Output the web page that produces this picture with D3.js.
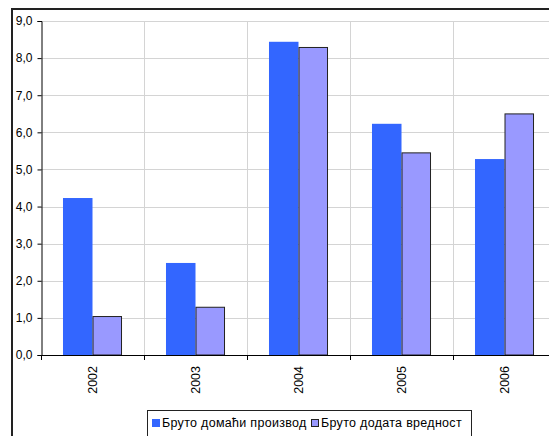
<!DOCTYPE html>
<html>
<head>
<meta charset="utf-8">
<script src="https://cdn.jsdelivr.net/npm/d3@7"></script>
<style>
  html, body { margin: 0; padding: 0; background: #fff; }
  svg { display: block; font-family: Arial, "Liberation Sans", sans-serif; }
</style>
</head>
<body>
<svg id="chart" width="549" height="436"></svg>
<script>
// Годишње стопе раста
const years = ["2002", "2003", "2004", "2005", "2006"];
const seriesNames = ["Бруто домаћи производ", "Бруто додата вредност"];
const gdp = [4.23, 2.48, 8.44, 6.23, 5.28];
const gva = [1.05, 1.30, 8.30, 5.46, 6.51];
const yTicks = [0, 1, 2, 3, 4, 5, 6, 7, 8, 9];
const colors = ["#3366FF", "#9999FF"];

const svg = d3.select("#chart");
const W = 549, H = 436;
const plot = { left: 41, top: 21, right: 556, bottom: 355 };

// outer frame
svg.append("rect")
  .attr("x", 12).attr("y", 9)
  .attr("width", W + 20).attr("height", H + 20)
  .attr("fill", "#fff").attr("stroke", "#222").attr("stroke-width", 2);

const y = d3.scaleLinear().domain([0, 9]).range([plot.bottom, plot.top]);
const x0 = d3.scaleBand().domain(years).range([plot.left, plot.right]).padding(0);
const x1 = d3.scaleBand().domain(seriesNames).range([0, x0.bandwidth()])
  .paddingInner(0).paddingOuter(0.745);

// horizontal gridlines
svg.append("g").selectAll("line").data(yTicks.filter(d => d > 0)).join("line")
  .attr("x1", plot.left).attr("x2", plot.right)
  .attr("y1", d => Math.round(y(d)) + 0.5).attr("y2", d => Math.round(y(d)) + 0.5)
  .attr("stroke", "#d4d4d4").attr("stroke-width", 1);

// vertical gridlines at category boundaries
svg.append("g").selectAll("line").data(years.slice(1)).join("line")
  .attr("x1", d => Math.round(x0(d)) + 0.5).attr("x2", d => Math.round(x0(d)) + 0.5)
  .attr("y1", plot.top).attr("y2", plot.bottom)
  .attr("stroke", "#d4d4d4").attr("stroke-width", 1);

// bars
const rows = years.map((yr, i) => ({ year: yr, values: [gdp[i], gva[i]] }));
const groups = svg.append("g").selectAll("g").data(rows).join("g")
  .attr("transform", d => `translate(${x0(d.year)},0)`);

groups.selectAll("rect").data(d => d.values.map((v, k) => ({ k, v }))).join("rect")
  .attr("x", d => x1(seriesNames[d.k]) + (d.k === 1 ? 0.5 : 0))
  .attr("y", d => y(d.v) + (d.k === 1 ? 0.5 : 0))
  .attr("width", d => x1.bandwidth() - (d.k === 1 ? 1 : 0))
  .attr("height", d => plot.bottom - y(d.v) - (d.k === 1 ? 0.5 : 0))
  .attr("fill", d => colors[d.k])
  .attr("stroke", d => d.k === 1 ? "#222" : "none")
  .attr("stroke-width", 1);

// y axis
const yAxis = d3.axisLeft(y).tickValues(yTicks).tickSize(4).tickPadding(5)
  .tickFormat(d => d3.format(".1f")(d).replace(".", ","));
const gy = svg.append("g").attr("transform", `translate(${plot.left + 0.5},0)`).call(yAxis);
gy.select(".domain").attr("stroke", "#000");
gy.selectAll(".tick line").attr("stroke", "#000");
gy.selectAll(".tick text").attr("font-size", 12).attr("fill", "#000")
  .attr("font-family", "Arial, 'Liberation Sans', sans-serif");

// x axis line and boundary ticks
svg.append("line")
  .attr("x1", plot.left).attr("x2", plot.right)
  .attr("y1", plot.bottom + 0.5).attr("y2", plot.bottom + 0.5)
  .attr("stroke", "#000");
svg.append("g").selectAll("line").data(years).join("line")
  .attr("x1", d => Math.round(x0(d)) + 0.5).attr("x2", d => Math.round(x0(d)) + 0.5)
  .attr("y1", plot.bottom).attr("y2", plot.bottom + 5)
  .attr("stroke", "#000");

// rotated year labels
svg.append("g").selectAll("text").data(years).join("text")
  .attr("transform", d => `translate(${x0(d) + x0.bandwidth() / 2 + 4},${plot.bottom + 11}) rotate(-90)`)
  .attr("text-anchor", "end")
  .attr("font-size", 12.5).attr("fill", "#000")
  .text(d => d);

// legend
const lg = svg.append("g");
lg.append("rect")
  .attr("x", 147.5).attr("y", 410.5).attr("width", 324).attr("height", 40)
  .attr("fill", "#fff").attr("stroke", "#222").attr("stroke-width", 1);
const legendX = [152, 311];
seriesNames.forEach((name, k) => {
  lg.append("rect")
    .attr("x", legendX[k] + (k === 1 ? 0.5 : 0)).attr("y", 419 + (k === 1 ? 0.5 : 0))
    .attr("width", k === 1 ? 7 : 8).attr("height", k === 1 ? 7 : 8)
    .attr("fill", colors[k])
    .attr("stroke", k === 1 ? "#222" : "none");
  lg.append("text")
    .attr("x", legendX[k] + 10).attr("y", 427)
    .attr("font-size", 12.5).attr("letter-spacing", 0.3).attr("fill", "#000")
    .text(name);
});
</script>
</body>
</html>
